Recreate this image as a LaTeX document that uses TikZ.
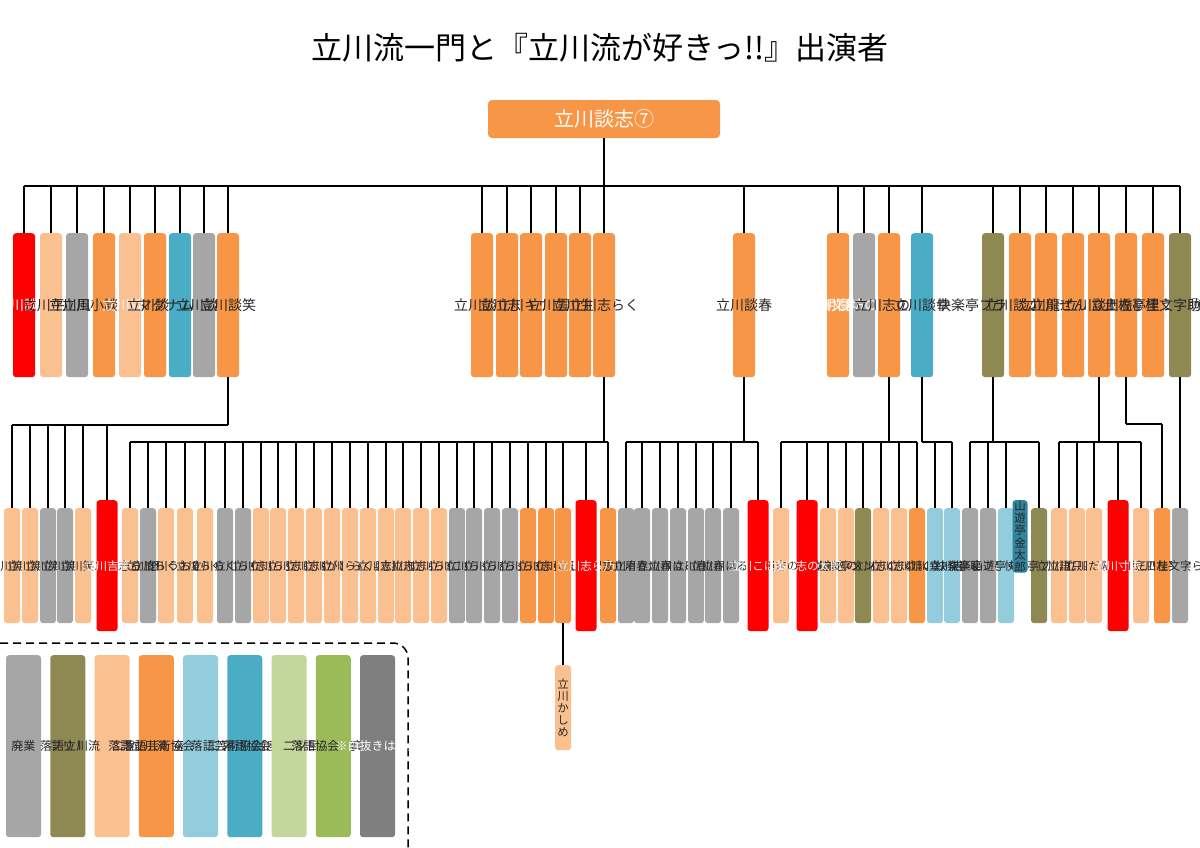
\documentclass[tikz,border=0pt]{standalone}
\usepackage{fontspec}
\setmainfont{Noto Sans CJK JP}
\newfontfamily\vjp[RawFeature=+vert]{Noto Sans CJK JP}
\usetikzlibrary{positioning}

\definecolor{cOr}{HTML}{F79646}
\definecolor{cLor}{HTML}{FAC090}
\definecolor{cRed}{HTML}{FF0000}
\definecolor{cGray}{HTML}{A6A6A6}
\definecolor{cBlue}{HTML}{4BACC6}
\definecolor{cLblue}{HTML}{93CDDD}
\definecolor{cOlive}{RGB}{142,136,82}
\definecolor{cTeal}{HTML}{31849B}
\definecolor{cLgreen}{HTML}{C3D69B}
\definecolor{cGreen}{HTML}{9BBB59}
\definecolor{cDgray}{HTML}{7F7F7F}
\definecolor{txt}{HTML}{262626}

% vertical (tategaki) text, one char per line
\def\vtl#1{\ifx#1\relax\else\hbox to 1em{\hss\vrule width 0pt height 0.92em depth 0.13em#1\hss}\expandafter\vtl\fi}
\newcommand\vt[1]{\vbox{\offinterlineskip\vtl#1\relax}}

\tikzset{
  mem/.style={rounded corners=3pt, inner sep=0pt, text=txt, anchor=north},
  tbox/.style={mem, minimum width=22pt, minimum height=144pt, font=\vjp\fontsize{14}{14}\selectfont},
  bbox/.style={mem, minimum width=16pt, minimum height=115pt, font=\vjp\fontsize{11.5}{12}\selectfont},
  rbox/.style={bbox, minimum width=21pt, minimum height=131pt},
  lbox/.style={mem, minimum width=35pt, minimum height=182pt, font=\vjp\fontsize{12}{12}\selectfont},
  cor/.style={fill=cOr}, clor/.style={fill=cLor}, cgray/.style={fill=cGray},
  cblue/.style={fill=cBlue}, clblue/.style={fill=cLblue}, colive/.style={fill=cOlive},
  cteal/.style={fill=cTeal}, cred/.style={fill=cRed, text=white},
  clgreen/.style={fill=cLgreen}, cgreen/.style={fill=cGreen}, cwdgray/.style={fill=cDgray, text=white},
  cwor/.style={fill=cOr, text=white}, cwlor/.style={fill=cLor, text=white},
  cwgray/.style={fill=cGray, text=white},
  link/.style={line width=1.6pt, black},
}

\begin{document}
\begin{tikzpicture}[x=1pt, y=-1pt]
    \useasboundingbox[fill=white] (0,0) rectangle (1200,847);

    % Title and root
    \node[font=\fontsize{31}{31}\selectfont] (title) at (600,48) {立川流一門と『立川流が好きっ!!』出演者};
    \node[fill=cOr, rounded corners=4pt, minimum width=232pt, minimum height=38pt,
          text=white, font=\fontsize{20}{20}\selectfont] (danshi) at (604,119) {立川談志⑦};

    % First generation
    \foreach \x/\s/\n in {24/cred/立川談吉, 51/clor/立川平林, 77/cgray/立川風吉, 104/cor/立川小談志②,
        130/cwlor/立川談大, 155/cor/立川談修, 180/cblue/マグナム小林, 204/cgray/立川談々, 228/cor/立川談笑,
        482/cor/立川談慶, 507/cor/立川志遊, 531/cor/立川キウイ, 556/cor/立川雲水, 580/cor/立川生志,
        604/cor/立川志らく, 744/cor/立川談春,
        838/cwor/立川文都⑥, 864/cwgray/朝寝坊のらく, 889/cor/立川志の輔, 922/cblue/立川談幸,
        993/colive/快楽亭ブラック②, 1020/cor/立川談之助, 1046/cor/立川龍志, 1073/cor/立川ぜん馬⑥,
        1099/cor/立川談四楼, 1126/cor/立川左談次, 1153/cor/土橋亭里う馬⑩, 1180/colive/桂文字助④} {
        \node[tbox,\s] (t\x) at (\x,233) {\vt{\n}};
        \draw[link] (t\x.north) -- (t\x.north |- 0,186);
    }
    \draw[link] (danshi.south) -- (danshi.south |- 0,186);
    \draw[link] (t24.north |- 0,186) -- (t1180.north |- 0,186);

    % Second generation
    \foreach \x/\s/\n in {12/clor/立川笑ん, 30/clor/立川笑坊, 48/cgray/立川笑笑, 65/cgray/立川笑吾, 83/clor/立川笑二,
        130/clor/立川志らぴー, 148/cgray/立川怒志, 166/clor/立川らくまん, 185/clor/立川うおるたー,
        205/clor/立川らく者, 225/cgray/立川らくみん, 243/cgray/立川らく葉, 261/clor/立川志ら門,
        278/clor/立川らくぼ, 296/clor/立川志ら鈴, 314/clor/立川志ら松, 332/clor/立川がじら,
        350/clor/立川らく人, 368/clor/らく兵, 386/clor/立川志獅丸, 403/clor/立川志庵, 421/clor/立川志らべ,
        439/clor/立川らく次, 457/cgray/立川こらく, 474/cgray/立川らく吉, 492/cgray/立川らく丸,
        510/cgray/立川らく坊, 528/cor/立川らく朝, 546/cor/立川志ら玉, 563/cor/立川こしら, 608/cor/立川志らら,
        626/cgray/立川春来, 642/cgray/立川春太郎, 660/cgray/立川春松, 678/cgray/立川はるか,
        696/cgray/立川春樹, 713/cgray/立川春吾, 731/cgray/立川はるく,
        781/clor/立川志の麿, 828/clor/立川志の彦, 846/clor/立川志のぽん, 863/colive/北山亭メンソーレ,
        881/clor/立川志の春, 899/clor/立川志の八, 917/cor/立川晴の輔, 935/clblue/立川幸之進, 952/clblue/立川吉幸,
        970/cgray/快楽亭恥くぴ, 988/cgray/快楽亭ブラ之助, 1006/clblue/山遊亭くま八, 1039/colive/快楽亭ブラ坊,
        1059/clor/立川語楼, 1077/clor/立川只四楼, 1094/clor/立川だん子, 1141/clor/立川三四楼,
        1162/cor/立川左平次, 1180/cgray/桂文字ら} {
        \node[bbox,\s] (b\x) at (\x,508) {\vt{\n}};
    }
    \foreach \x/\n in {107/立川吉笑, 586/立川志ら乃, 758/立川こはる, 807/立川志の太郎, 1118/立川寸志} {
        \node[rbox,cred] (b\x) at (\x,500) {\vt{\n}};
    }
    \node[bbox,cteal,minimum width=15pt,minimum height=68pt] (b1020) at (1020,500) {\vt{山遊亭金太郎}};
    \node[bbox,clor,minimum height=85pt] (b563k) at (563,665) {\vt{立川かしめ}};

    % Lineage links: parent/bar y/bar from/bar to/children
    \foreach \p/\y/\a/\b/\kids in {t228/425/b12/t228/{b12,b30,b48,b65,b83,b107},
        t604/442/b130/b608/{b130,b148,b166,b185,b205,b225,b243,b261,b278,b296,b314,b332,b350,b368,b386,b403,b421,b439,b457,b474,b492,b510,b528,b546,b563,b586,b608},
        t744/442/b626/b758/{b626,b642,b660,b678,b696,b713,b731,b758},
        t889/442/b781/b917/{b781,b807,b828,b846,b863,b881,b899,b917},
        t922/442/t922/b952/{b935,b952},
        t993/442/b970/b1039/{b970,b988,b1006,b1039},
        t1099/442/b1059/b1141/{b1059,b1077,b1094,b1118,b1141},
        t1126/424/t1126/b1162/{b1162}} {
        \draw[link] (\p.south) -- (\p.south |- 0,\y);
        \draw[link] (\a.north |- 0,\y) -- (\b.north |- 0,\y);
        \foreach \k in \kids {
            \draw[link] (\k.north) -- (\k.north |- 0,\y);
        }
    }
    \draw[link] (t1180.south) -- (b1180.north);
    \draw[link, line width=1.2pt] (b563.south) -- (b563k.north);

    % Legend
    \draw[line width=1.5pt, dash pattern=on 8pt off 5pt, rounded corners=15pt] (0,643) -- (408,643) -- (408,850);
    \foreach \i/\s/\n in {0/cgray/廃業, 1/colive/フリー, 2/clor/落語立川流　二ツ目　前座, 3/cor/落語立川流　真打,
        4/clblue/落語芸術協会　二ツ目　前座, 5/cblue/落語芸術協会　真打, 6/clgreen/落語協会　二ツ目　前座,
        7/cgreen/落語協会　真打, 8/cwdgray/※白抜きは故人} {
        \node[lbox,\s] (l\i) at (23.5+44.25*\i,655) {\vt{\n}};
    }
\end{tikzpicture}
\end{document}
